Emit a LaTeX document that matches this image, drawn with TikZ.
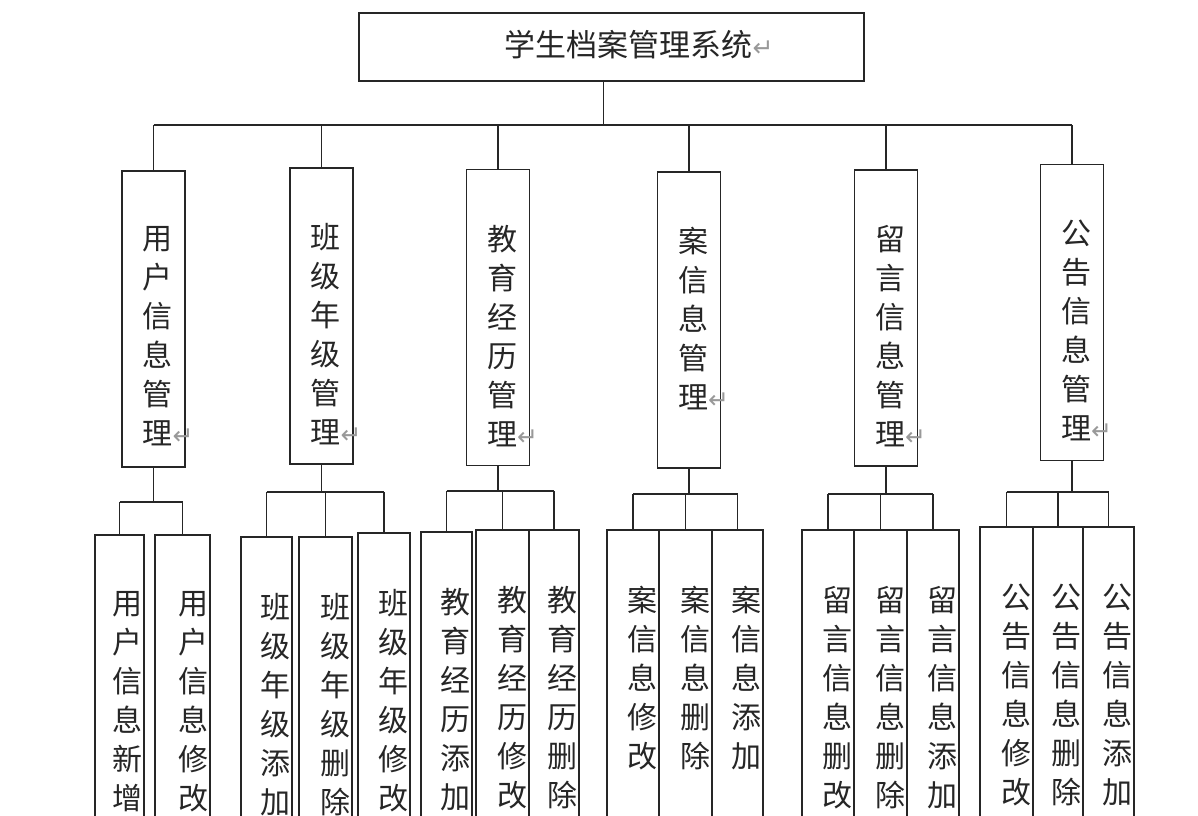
\documentclass[tikz,border=0pt]{standalone}
\usepackage{fontspec}
\newfontfamily\cjk{Noto Sans CJK SC}
\newfontfamily\symfont{DejaVu Sans}
\usetikzlibrary{positioning,calc}
\newcommand\pmark{\rlap{\textcolor{black!40}{\symfont\fontsize{25}{25}\selectfont ↵}}}

\begin{document}
\begin{tikzpicture}[x=1pt,y=-1pt,
  ln/.style={line width=1.3pt,color=black!85},
  topbox/.style={draw=black!85,line width=1.3pt,minimum width=505pt,minimum height=68pt,inner sep=0pt},
  mbox/.style={draw=black!85,line width=1.3pt,minimum width=63pt,minimum height=296pt,inner sep=0pt},
  leaf/.style={draw=black!85,line width=1.3pt,minimum height=300pt,inner sep=0pt},
  vt/.style={font=\cjk\fontsize{30}{39}\selectfont,align=center,inner sep=0pt,anchor=north,text=black!85},
  rt/.style={font=\cjk\fontsize{31}{36}\selectfont,inner sep=0pt,text=black!85}
]
\useasboundingbox (0,0) rectangle (1198,815);
\clip (0,0) rectangle (1198,815);

% root
\node[topbox] (root) at (611.5,47) {};
\node[rt] (roott) at (628.5,45) {学生档案管理系统\pmark};

% modules
\node[mbox] (m1) at (153.5,319)  {};
\node[mbox] (m2) at (321.5,316)  {};
\node[mbox] (m3) at (498,317.5)  {};
\node[mbox] (m4) at (689,320)    {};
\node[mbox] (m5) at (886,318)    {};
\node[mbox] (m6) at (1072,312.5) {};

\node[vt] (m1t) at ($(m1.north)+(4,56)$) {用\\户\\信\\息\\管\\理\pmark};
\node[vt] (m2t) at ($(m2.north)+(4,56)$) {班\\级\\年\\级\\管\\理\pmark};
\node[vt] (m3t) at ($(m3.north)+(4,56)$) {教\\育\\经\\历\\管\\理\pmark};
\node[vt] (m4t) at ($(m4.north)+(4,56)$) {案\\信\\息\\管\\理\pmark};
\node[vt] (m5t) at ($(m5.north)+(4,56)$) {留\\言\\信\\息\\管\\理\pmark};
\node[vt] (m6t) at ($(m6.north)+(4,56)$) {公\\告\\信\\息\\管\\理\pmark};

% leaves
\node[leaf,minimum width=49pt] (l11) at (119.5,685) {};
\node[leaf,minimum width=55pt] (l12) at (182.5,685) {};
\node[leaf,minimum width=51pt] (l21) at (266.5,687) {};
\node[leaf,minimum width=53pt] (l22) at (325.5,687) {};
\node[leaf,minimum width=52pt] (l23) at (384,683)   {};
\node[leaf,minimum width=51pt] (l31) at (446.5,682) {};
\node[leaf,minimum width=53pt] (l32) at (502.5,680) {};
\node[leaf,minimum width=50pt] (l33) at (554,680)   {};
\node[leaf,minimum width=52pt] (l41) at (633,680)   {};
\node[leaf,minimum width=53pt] (l42) at (685.5,680) {};
\node[leaf,minimum width=51pt] (l43) at (737.5,680) {};
\node[leaf,minimum width=52pt] (l51) at (828,680)   {};
\node[leaf,minimum width=53pt] (l52) at (880.5,680) {};
\node[leaf,minimum width=52pt] (l53) at (933,680)   {};
\node[leaf,minimum width=53pt] (l61) at (1006.5,677) {};
\node[leaf,minimum width=50pt] (l62) at (1058,677)  {};
\node[leaf,minimum width=51pt] (l63) at (1108.5,677) {};

\node[vt] (l11t) at ($(l11.north east)+(-17,57)$) {用\\户\\信\\息\\新\\增};
\node[vt] (l12t) at ($(l12.north east)+(-17,57)$) {用\\户\\信\\息\\修\\改};
\node[vt] (l21t) at ($(l21.north east)+(-17,57)$) {班\\级\\年\\级\\添\\加};
\node[vt] (l22t) at ($(l22.north east)+(-17,57)$) {班\\级\\年\\级\\删\\除};
\node[vt] (l23t) at ($(l23.north east)+(-17,57)$) {班\\级\\年\\级\\修\\改};
\node[vt] (l31t) at ($(l31.north east)+(-17,57)$) {教\\育\\经\\历\\添\\加};
\node[vt] (l32t) at ($(l32.north east)+(-17,57)$) {教\\育\\经\\历\\修\\改};
\node[vt] (l33t) at ($(l33.north east)+(-17,57)$) {教\\育\\经\\历\\删\\除};
\node[vt] (l41t) at ($(l41.north east)+(-17,57)$) {案\\信\\息\\修\\改};
\node[vt] (l42t) at ($(l42.north east)+(-17,57)$) {案\\信\\息\\删\\除};
\node[vt] (l43t) at ($(l43.north east)+(-17,57)$) {案\\信\\息\\添\\加};
\node[vt] (l51t) at ($(l51.north east)+(-17,57)$) {留\\言\\信\\息\\删\\改};
\node[vt] (l52t) at ($(l52.north east)+(-17,57)$) {留\\言\\信\\息\\删\\除};
\node[vt] (l53t) at ($(l53.north east)+(-17,57)$) {留\\言\\信\\息\\添\\加};
\node[vt] (l61t) at ($(l61.north east)+(-17,57)$) {公\\告\\信\\息\\修\\改};
\node[vt] (l62t) at ($(l62.north east)+(-17,57)$) {公\\告\\信\\息\\删\\除};
\node[vt] (l63t) at ($(l63.north east)+(-17,57)$) {公\\告\\信\\息\\添\\加};

% root to modules
\coordinate (bus) at (0,125);
\draw[ln] ([xshift=-8pt]root.south) -- ([xshift=-8pt]root.south |- bus);
\draw[ln] (m1.north |- bus) -- (m6.north |- bus);
\foreach \m in {m1,m2,m3,m4,m5,m6}
  \draw[ln] (\m.north |- bus) -- (\m.north);

% modules to leaves
\coordinate (b1) at (0,502);
\coordinate (b2) at (0,492);
\coordinate (b3) at (0,491);
\coordinate (b4) at (0,494);
\coordinate (b5) at (0,494);
\coordinate (b6) at (0,492);
\draw[ln] (m1.south) -- (m1.south |- b1);
\draw[ln] (l11.north |- b1) -- (l12.north |- b1);
\foreach \l in {l11,l12}
  \draw[ln] (\l.north |- b1) -- (\l.north);
\foreach \g in {2,...,6}{
  \draw[ln] (m\g.south) -- (m\g.south |- b\g);
  \draw[ln] (l\g1.north |- b\g) -- (l\g3.north |- b\g);
  \foreach \k in {1,2,3}
    \draw[ln] (l\g\k.north |- b\g) -- (l\g\k.north);
}
\end{tikzpicture}
\end{document}
